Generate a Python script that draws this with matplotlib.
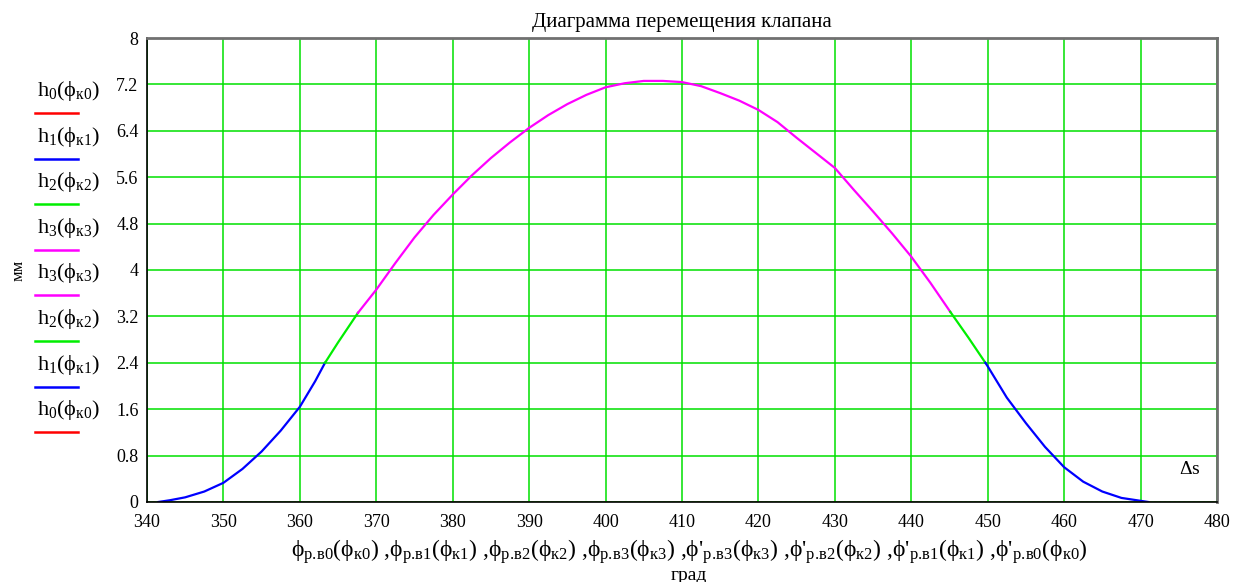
import numpy as np
import matplotlib.pyplot as plt
from matplotlib.lines import Line2D

plt.rcParams['font.family'] = ['Liberation Serif', 'DejaVu Serif']
plt.rcParams['mathtext.fontset'] = 'custom'
plt.rcParams['mathtext.rm'] = 'Liberation Serif'
plt.rcParams['mathtext.it'] = 'Liberation Serif'
plt.rcParams['mathtext.bf'] = 'Liberation Serif:bold'

# подъём клапана по участкам
x_h0 = [340, 480]
y_h0 = [0, 0]

x_h1_up = [341.5, 343, 345, 347.5, 350, 352.5, 355, 357.5, 360, 362, 363.3]
y_h1_up = [0, 0.03, 0.08, 0.18, 0.33, 0.57, 0.87, 1.23, 1.64, 2.08, 2.4]

x_h2_up = [363.3, 365, 367.6]
y_h2_up = [2.4, 2.75, 3.26]

x_h3 = [367.6, 370, 372.5, 375, 377.5, 380, 382.5, 385, 387.5, 390, 392.5,
        395, 397.5, 400, 402.5, 405, 407.5, 410, 412.5, 415, 417.5, 420,
        422.5, 425, 427.5, 430, 432.5, 435, 437.5, 440, 442.5, 445.1]
y_h3 = [3.26, 3.66, 4.12, 4.56, 4.95, 5.3, 5.63, 5.93, 6.2, 6.45, 6.67,
        6.86, 7.02, 7.15, 7.22, 7.26, 7.26, 7.24, 7.17, 7.05, 6.92, 6.76,
        6.55, 6.28, 6.02, 5.76, 5.38, 5.01, 4.63, 4.23, 3.78, 3.28]

x_h2_down = [445.1, 447.5, 449.7]
y_h2_down = [3.28, 2.83, 2.4]

x_h1_down = [449.7, 450, 452.5, 455, 457.5, 460, 462.5, 465, 467.5, 470, 471]
y_h1_down = [2.4, 2.34, 1.8, 1.36, 0.95, 0.6, 0.35, 0.18, 0.07, 0.02, 0]

x_ticks = np.arange(340, 481, 10)
y_ticks = [0, 0.8, 1.6, 2.4, 3.2, 4, 4.8, 5.6, 6.4, 7.2, 8]
y_labels = ['0', '0.8', '1.6', '2.4', '3.2', '4', '4.8', '5.6', '6.4', '7.2', '8']

legend_labels = [r'$\mathrm{h}_0(\phi_{к0})$', r'$\mathrm{h}_1(\phi_{к1})$',
                 r'$\mathrm{h}_2(\phi_{к2})$', r'$\mathrm{h}_3(\phi_{к3})$',
                 r'$\mathrm{h}_3(\phi_{к3})$', r'$\mathrm{h}_2(\phi_{к2})$',
                 r'$\mathrm{h}_1(\phi_{к1})$', r'$\mathrm{h}_0(\phi_{к0})$']
legend_colors = ['#ff0000', '#0000ff', '#00ee00', '#ff00ff',
                 '#ff00ff', '#00ee00', '#0000ff', '#ff0000']

fig = plt.figure(figsize=(12.37, 5.82), dpi=100)
ax = fig.add_axes([0.1188, 0.1375, 0.8650, 0.7972])

ax.plot(x_h0, y_h0, color='#ff0000', lw=1, ls='--', dashes=(2, 1.5))
ax.plot(x_h1_up, y_h1_up, color='#0000ff', lw=1.6)
ax.plot(x_h2_up, y_h2_up, color='#00ee00', lw=1.6)
ax.plot(x_h3, y_h3, color='#ff00ff', lw=1.6)
ax.plot(x_h2_down, y_h2_down, color='#00ee00', lw=1.6)
ax.plot(x_h1_down, y_h1_down, color='#0000ff', lw=1.6)

ax.set_xlim(340, 480)
ax.set_ylim(0, 8)
ax.set_xticks(x_ticks)
ax.set_yticks(y_ticks)
ax.set_yticklabels(y_labels)
ax.tick_params(length=0, labelsize=13)
ax.tick_params(axis='x', pad=9)
ax.tick_params(axis='y', pad=6)
ax.grid(True, color='#00e000', lw=1.1)
ax.set_axisbelow(True)

for s in ['left', 'bottom']:
    ax.spines[s].set_color('black')
    ax.spines[s].set_linewidth(1.2)
for s in ['top', 'right']:
    ax.spines[s].set_color('#707070')
    ax.spines[s].set_linewidth(2)

ax.set_title('Диаграмма перемещения клапана', fontsize=15, pad=8)
ax.text(477.8, 0.42, r'$\Delta$s', fontsize=14, ha='right', va='bottom')

xlab = (r'$\phi_{р.\!в0}(\phi_{к0})$ ,$\phi_{р.\!в1}(\phi_{к1})$ ,'
        r'$\phi_{р.\!в2}(\phi_{к2})$ ,$\phi_{р.\!в3}(\phi_{к3})$ ,'
        r"$\phi$'$_{р.\!в3}(\phi_{к3})$ ,$\phi$'$_{р.\!в2}(\phi_{к2})$ ,"
        r"$\phi$'$_{р.\!в1}(\phi_{к1})$ ,$\phi$'$_{р.\!в0}(\phi_{к0})$")
fig.text(0.557, 0.053, xlab, fontsize=17, ha='center', va='center')
fig.text(0.557, 0.012, 'град', fontsize=14, ha='center', va='center')
fig.text(0.015, 0.535, 'мм', fontsize=12, rotation=90, ha='center', va='center')

# легенда слева
for i, (lab, col) in enumerate(zip(legend_labels, legend_colors)):
    y_txt = 1 - (91 + i * 45.6) / 582
    y_line = 1 - (113 + i * 45.6) / 582
    fig.text(0.055, y_txt, lab, fontsize=16, ha='center', va='center')
    fig.add_artist(Line2D([35 / 1237, 78 / 1237], [y_line, y_line],
                          color=col, lw=1.8, transform=fig.transFigure))

fig.savefig('out.png', dpi=100)
